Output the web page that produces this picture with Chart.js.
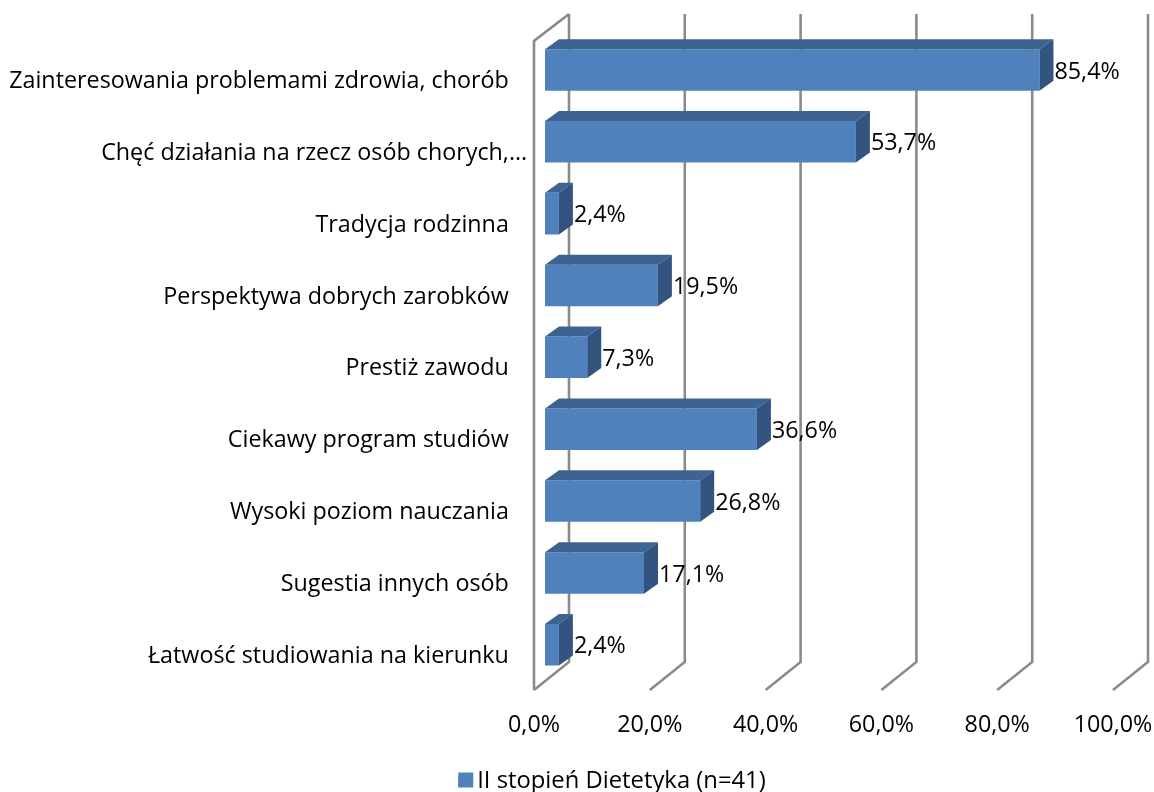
<!DOCTYPE html>
<html><head><meta charset="utf-8">
<style>html,body{margin:0;padding:0;background:#fff}canvas{display:block}</style>
<script src="https://cdn.jsdelivr.net/npm/chart.js@4"></script>
</head><body><canvas id="c" width="1154" height="792"></canvas>
<script>
const categories = [
  "Zainteresowania problemami zdrowia, chorób   ",
  "Chęć działania na rzecz osób chorych,…",
  "Tradycja rodzinna   ",
  "Perspektywa dobrych zarobków   ",
  "Prestiż zawodu   ",
  "Ciekawy program studiów   ",
  "Wysoki poziom nauczania   ",
  "Sugestia innych osób   ",
  "Łatwość studiowania na kierunku   "
];
const values = [85.4, 53.7, 2.4, 19.5, 7.3, 36.6, 26.8, 17.1, 2.4];
const seriesName = "II stopień Dietetyka (n=41)";
const tickLabels = ["0,0%", "20,0%", "40,0%", "60,0%", "80,0%", "100,0%"];

const FONT = "'Open Sans', sans-serif";
const SIZE = 23.3, LEGEND_SIZE = 23.8;
const FRONT = "#4F81BD", TOP = "#3E6391", SIDE = "#33547F", GRID = "#8A8A8A";
const DX = 14, DY = 10;          // bar depth
const WALL_DX = 24, FLOOR_DX = -11; // back wall and front floor offset from the value pixel
const FLOOR_Y = 690, BACK_BOTTOM = 662, BACK_TOP = 14, FRONT_TOP = 41;
const LEGEND_MID = 785.5, SWATCH_MID = 780;

const scene3d = {
  id: "scene3d",
  afterLayout(chart) {
    chart.legend.left += 50; chart.legend.right += 50;
    const dy = LEGEND_MID - (chart.legend.top + chart.legend.height / 2);
    chart.legend.top += dy; chart.legend.bottom += dy;
  },
  beforeDatasetsDraw(chart) {
    const {ctx, scales: {x}} = chart;
    ctx.save();
    ctx.strokeStyle = GRID; ctx.lineWidth = 2.6; ctx.lineJoin = "miter";
    x.ticks.forEach(t => {
      const p = x.getPixelForValue(t.value);
      ctx.beginPath();
      ctx.moveTo(p + WALL_DX, BACK_TOP);
      ctx.lineTo(p + WALL_DX, BACK_BOTTOM);
      ctx.lineTo(p + FLOOR_DX, FLOOR_Y);
      ctx.stroke();
    });
    const z = x.getPixelForValue(0);
    ctx.beginPath();
    ctx.moveTo(z + WALL_DX, BACK_TOP);
    ctx.lineTo(z + FLOOR_DX, FRONT_TOP);
    ctx.lineTo(z + FLOOR_DX, FLOOR_Y);
    ctx.stroke();
    ctx.restore();
  },
  afterDatasetsDraw(chart) {
    const {ctx} = chart;
    const meta = chart.getDatasetMeta(0);
    ctx.save();
    meta.data.forEach((bar, i) => {
      const xl = bar.base, xr = bar.x, t = bar.y - bar.height / 2, b = bar.y + bar.height / 2;
      ctx.fillStyle = TOP;
      ctx.beginPath();
      ctx.moveTo(xl, t); ctx.lineTo(xl + DX, t - DY); ctx.lineTo(xr + DX, t - DY); ctx.lineTo(xr, t);
      ctx.closePath(); ctx.fill();
      ctx.fillStyle = SIDE;
      ctx.beginPath();
      ctx.moveTo(xr, t); ctx.lineTo(xr + DX, t - DY); ctx.lineTo(xr + DX, b - DY); ctx.lineTo(xr, b);
      ctx.closePath(); ctx.fill();
      ctx.fillStyle = "#000";
      ctx.font = SIZE + "px " + FONT;
      ctx.textAlign = "left"; ctx.textBaseline = "middle";
      ctx.fillText(values[i].toFixed(1).replace(".", ",") + "%", xr + DX + 1, bar.y + 2);
    });
    ctx.restore();
  },
  afterDraw(chart) {
    // widen the legend swatch to a full square; the label keeps its tight gap
    const lg = chart.legend, o = lg.options.labels;
    const bx = (lg.left + o.padding + lg.right - lg.lineWidths[0]) / 2;
    chart.ctx.save();
    chart.ctx.fillStyle = FRONT;
    chart.ctx.fillRect(bx, SWATCH_MID - 7.5, 15, 15);
    chart.ctx.restore();
  }
};

new Chart(document.getElementById("c"), {
  type: "bar",
  data: {
    labels: categories,
    datasets: [{label: seriesName, data: values, backgroundColor: FRONT, borderWidth: 0,
      barPercentage: 0.578, categoryPercentage: 1}]
  },
  plugins: [scene3d],
  options: {
    indexAxis: "y",
    responsive: false,
    animation: false,
    layout: {padding: {top: 34, right: 30, left: 0, bottom: 0}},
    plugins: {
      tooltip: {enabled: false},
      legend: {
        position: "bottom",
        labels: {boxWidth: 7, boxHeight: 9, padding: 2, color: "#000",
          font: {family: FONT, size: LEGEND_SIZE, lineHeight: 1}}
      }
    },
    scales: {
      x: {
        min: 0, max: 100,
        grid: {display: false, drawTicks: false},
        border: {display: false},
        afterFit(s) { s.height = 75.5; s.paddingLeft = 0; s.paddingRight = 0; },
        ticks: {stepSize: 20, autoSkip: false, maxRotation: 0, minRotation: 0, padding: 30.5, labelOffset: FLOOR_DX, color: "#000",
          font: {family: FONT, size: SIZE},
          callback: (v, i) => tickLabels[i]}
      },
      y: {
        grid: {display: false, drawTicks: false},
        border: {display: false},
        afterFit(s) { s.width = 545; },
        ticks: {autoSkip: false, padding: 18, labelOffset: 11.5, color: "#000",
          font: {family: FONT, size: SIZE}}
      }
    }
  }
});
</script></body></html>
